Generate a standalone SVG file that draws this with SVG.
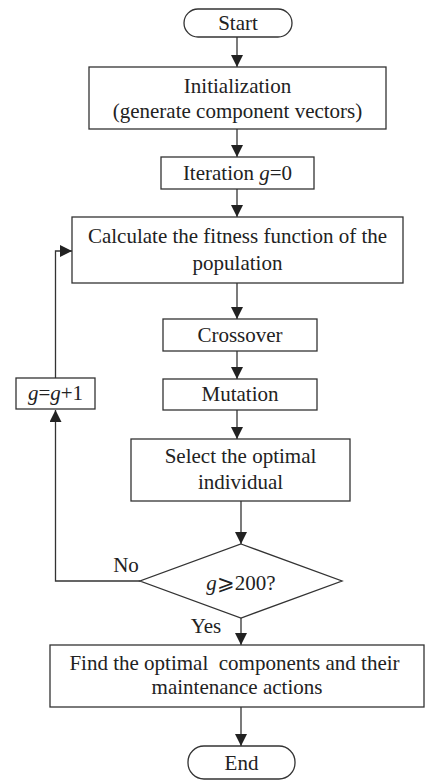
<svg xmlns="http://www.w3.org/2000/svg" width="425" height="780" viewBox="0 0 425 780">
<style>
.b{fill:#fff;stroke:#333;stroke-width:1.3}
.t{font-family:"Liberation Serif","Times New Roman",serif;font-size:21px;fill:#222;text-anchor:middle}
.l{fill:none;stroke:#333;stroke-width:1.3}
</style>
<defs>
<marker id="a" viewBox="0 0 12 12" refX="12" refY="6" markerWidth="12" markerHeight="12" markerUnits="userSpaceOnUse" orient="auto">
<path d="M0,0 L12,6 L0,12 z" fill="#222"/>
</marker>
</defs>
<rect width="425" height="780" fill="#fff"/>
<g id="connectors">
<line class="l" x1="237" y1="37" x2="237" y2="67" marker-end="url(#a)"/>
<line class="l" x1="237" y1="129" x2="237" y2="157" marker-end="url(#a)"/>
<line class="l" x1="237" y1="189" x2="237" y2="217" marker-end="url(#a)"/>
<line class="l" x1="237" y1="283" x2="237" y2="319" marker-end="url(#a)"/>
<line class="l" x1="237" y1="351" x2="237" y2="379" marker-end="url(#a)"/>
<line class="l" x1="237" y1="410" x2="237" y2="439" marker-end="url(#a)"/>
<line class="l" x1="241" y1="501" x2="241" y2="544" marker-end="url(#a)"/>
<line class="l" x1="241" y1="618" x2="241" y2="645" marker-end="url(#a)"/>
<line class="l" x1="241" y1="707" x2="241" y2="746" marker-end="url(#a)"/>
<polyline class="l" points="140,581 55.5,581 55.5,410" marker-end="url(#a)"/>
<polyline class="l" points="55.5,378 55.5,251 72,251" marker-end="url(#a)"/>
<text class="t" x="126" y="572">No</text>
<text class="t" x="206" y="633">Yes</text>
</g>
<g id="start">
<rect class="b" x="184" y="9" width="108" height="28" rx="14"/>
<text class="t" x="238" y="30">Start</text>
</g>
<g id="init">
<rect class="b" x="89" y="67" width="297" height="62"/>
<text class="t" x="237.5" y="93">Initialization</text>
<text class="t" x="237.5" y="118">(generate component vectors)</text>
</g>
<g id="iter">
<rect class="b" x="161" y="157" width="153" height="32"/>
<text class="t" x="237.5" y="180">Iteration <tspan font-style="italic">g</tspan>=0</text>
</g>
<g id="calc">
<rect class="b" x="72" y="217" width="331" height="66"/>
<text class="t" x="237.5" y="243">Calculate the fitness function of the</text>
<text class="t" x="237.5" y="270">population</text>
</g>
<g id="cross">
<rect class="b" x="163" y="319" width="154" height="32"/>
<text class="t" x="240" y="342">Crossover</text>
</g>
<g id="mut">
<rect class="b" x="163" y="379" width="154" height="31"/>
<text class="t" x="240" y="401">Mutation</text>
</g>
<g id="inc">
<rect class="b" x="16" y="378" width="79" height="31"/>
<text class="t" x="55.5" y="400"><tspan font-style="italic">g</tspan>=<tspan font-style="italic">g</tspan>+1</text>
</g>
<g id="select">
<rect class="b" x="131" y="439" width="219" height="62"/>
<text class="t" x="240.5" y="463">Select the optimal</text>
<text class="t" x="240.5" y="489">individual</text>
</g>
<g id="cond">
<polygon class="b" points="241,544 342,581 241,618 140,581"/>
<text class="t" x="241" y="590"><tspan font-style="italic">g</tspan>⩾200?</text>
</g>
<g id="find">
<rect class="b" x="50" y="645" width="374" height="62"/>
<text class="t" x="234.5" y="670" xml:space="preserve">Find the optimal  components and their</text>
<text class="t" x="237" y="694">maintenance actions</text>
</g>
<g id="end">
<rect class="b" x="188" y="746" width="107" height="33" rx="16"/>
<text class="t" x="241.5" y="770">End</text>
</g>
</svg>
